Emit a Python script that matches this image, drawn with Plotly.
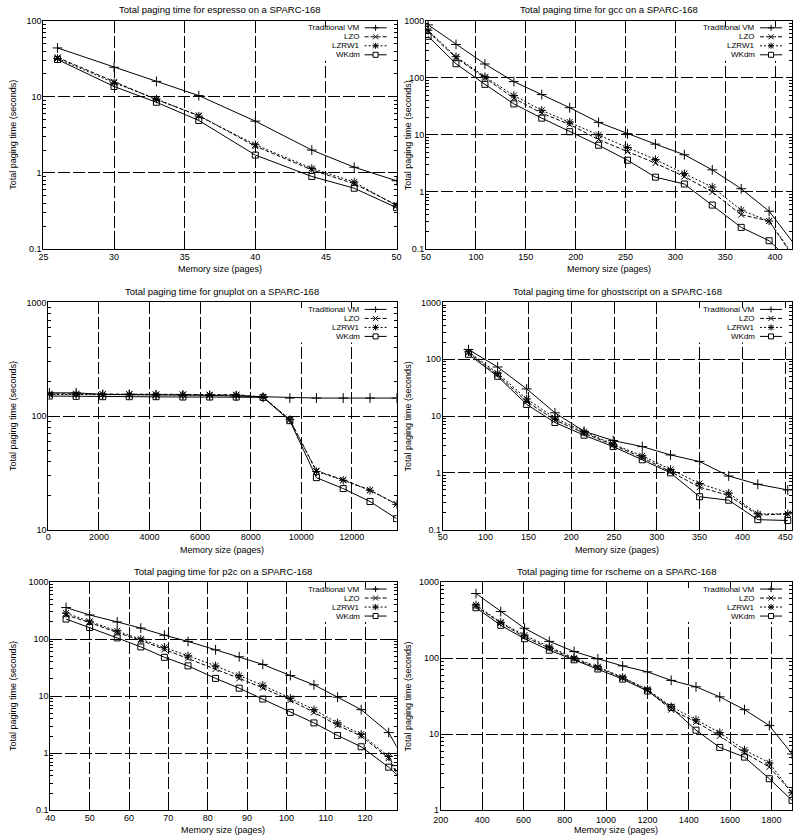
import math
import plotly.graph_objects as go

FONT = "Liberation Sans"
SERIES = ["Traditional VM", "LZO", "LZRW1", "WKdm"]

# ── espresso ──────────────────────────────────────────────────────────────────
ESPRESSO_X = [26, 30, 33, 36, 40, 44, 47, 50]
ESPRESSO_VM = [44, 24.5, 16, 10.4, 4.8, 2.0, 1.19, 0.79]
ESPRESSO_LZO = [33, 15.8, 9.2, 5.7, 2.25, 1.1, 0.72, 0.38]
ESPRESSO_LZRW1 = [32, 15.3, 9.4, 5.6, 2.35, 1.15, 0.76, 0.37]
ESPRESSO_WKDM = [31, 13.7, 8.5, 4.9, 1.72, 0.9, 0.63, 0.35]

# ── gcc ───────────────────────────────────────────────────────────────────────
GCC_X = [52, 80, 109, 138, 166, 194, 223, 252, 280, 309, 337, 366, 394, 423]
GCC_VM = [850, 385, 175, 86, 51, 30, 16.6, 10.5, 6.9, 4.5, 2.44, 1.14, 0.46, 0.1]
GCC_LZO = [650, 225, 100, 44, 24, 15.3, 8.3, 5.1, 3.2, 1.87, 1.0, 0.40, 0.31, 0.055]
GCC_LZRW1 = [680, 235, 105, 49, 27, 16.8, 10, 6.0, 3.7, 2.1, 1.22, 0.48, 0.31, 0.06]
GCC_WKDM = [535, 177, 77, 35, 19.7, 11.4, 6.6, 3.6, 1.82, 1.38, 0.59, 0.24, 0.14, 0.047]

# ── gnuplot ───────────────────────────────────────────────────────────────────
GNUPLOT_X = [40, 1100, 2150, 3200, 4260, 5320, 6380, 7430, 8490, 9550,
             10600, 11660, 12720, 13770]
GNUPLOT_VM = [160, 160, 155, 155, 154, 153, 152, 150, 146, 144, 144, 144, 144, 144]
GNUPLOT_LZO = [157, 157, 156, 156, 155, 155, 154, 154, 147, 93, 33, 27.5, 22.3, 16.8]
GNUPLOT_LZRW1 = [155, 155, 155, 155, 154, 154, 153, 153, 147, 93, 32.5, 27.2, 22.2, 16.7]
GNUPLOT_WKDM = [150, 149, 148, 148, 148, 147, 147, 147, 146, 91, 28.7, 23, 17.7, 12.5]

# ── ghostscript ───────────────────────────────────────────────────────────────
GHOST_X = [80, 114, 148, 181, 215, 249, 283, 316, 350, 384, 418, 453]
GHOST_VM = [148, 73, 30, 11.4, 5.4, 3.7, 2.9, 2.07, 1.58, 0.88, 0.63, 0.50]
GHOST_LZO = [130, 53, 18, 8.5, 5.0, 3.1, 1.85, 1.05, 0.56, 0.40, 0.18, 0.19]
GHOST_LZRW1 = [135, 57, 20, 9.2, 5.3, 3.2, 2.0, 1.15, 0.65, 0.44, 0.19, 0.19]
GHOST_WKDM = [122, 50, 16, 7.7, 4.6, 2.9, 1.7, 1.0, 0.38, 0.33, 0.15, 0.145]

# ── p2c ───────────────────────────────────────────────────────────────────────
P2C_X = [44, 50, 57, 63, 69, 75, 82, 88, 94, 101, 107, 113, 119, 126, 132]
P2C_VM = [357, 265, 200, 156, 117, 91, 65, 49, 36, 23, 15.8, 9.6, 5.8, 2.3, 0.42]
P2C_LZO = [265, 195, 130, 95, 66, 46, 30, 20.5, 14, 8.5, 5.2, 3.1, 2.0, 0.82, 0.13]
P2C_LZRW1 = [285, 205, 140, 100, 72, 51, 34, 23, 15.5, 9.2, 5.8, 3.4, 2.15, 0.88, 0.14]
P2C_WKDM = [225, 160, 105, 73, 48, 34, 20.5, 13.8, 8.9, 5.2, 3.4, 2.05, 1.3, 0.57, 0.23]

# ── rscheme ───────────────────────────────────────────────────────────────────
RSCHEME_X = [370, 490, 605, 725, 845, 960, 1080, 1200, 1315, 1435, 1550, 1670, 1790, 1900]
RSCHEME_VM = [707, 409, 247, 166, 122, 98, 79, 66, 51, 42, 31, 21, 13, 5.5]
RSCHEME_LZO = [480, 290, 190, 135, 97, 75, 55, 38, 21, 14.5, 9.5, 5.7, 3.7, 1.7]
RSCHEME_LZRW1 = [500, 295, 200, 140, 100, 77, 56, 39, 23, 15.5, 10.5, 6.2, 4.2, 1.7]
RSCHEME_WKDM = [460, 270, 180, 127, 95, 72, 53, 37, 22.5, 11.3, 6.7, 5.0, 2.6, 1.35]

# tick values
Y_TICKS = [0.1, 1, 10, 100, 1000]
Y_TICK_TEXT = ["0.1", "1", "10", "100", "1000"]

# (program, x, series, x ticks, x range, y range, pixel box (l, r, t, b), x label standoff)
PANELS = [
    ("espresso", ESPRESSO_X, [ESPRESSO_VM, ESPRESSO_LZO, ESPRESSO_LZRW1, ESPRESSO_WKDM],
     list(range(25, 51, 5)), [25, 50], [0.1, 100], (36, 395, 16, 247), -1),
    ("gcc", GCC_X, [GCC_VM, GCC_LZO, GCC_LZRW1, GCC_WKDM],
     list(range(50, 401, 50)), [50, 417], [0.1, 1000], (425, 797, 16, 247), -1),
    ("gnuplot", GNUPLOT_X, [GNUPLOT_VM, GNUPLOT_LZO, GNUPLOT_LZRW1, GNUPLOT_WKDM],
     list(range(0, 12001, 2000)), [0, 13770], [10, 1000], (41, 395, 301, 531), -1),
    ("ghostscript", GHOST_X, [GHOST_VM, GHOST_LZO, GHOST_LZRW1, GHOST_WKDM],
     list(range(50, 451, 50)), [50, 458], [0.1, 1000], (442, 797, 301, 531), -1),
    ("p2c", P2C_X, [P2C_VM, P2C_LZO, P2C_LZRW1, P2C_WKDM],
     list(range(40, 121, 10)), [40, 128], [0.1, 1000], (43, 395, 584, 815), -1),
    ("rscheme", RSCHEME_X, [RSCHEME_VM, RSCHEME_LZO, RSCHEME_LZRW1, RSCHEME_WKDM],
     list(range(200, 1801, 200)), [200, 1900], [1, 1000], (440, 797, 584, 815), 1),
]

STYLE = {
    "Traditional VM": dict(dash="solid", symbol="cross-thin-open", size=7),
    "LZO": dict(dash="4px,2px", symbol="x-thin-open", size=6),
    "LZRW1": dict(dash="2px,2px", symbol="asterisk-open", size=7),
    "WKdm": dict(dash="solid", symbol="square-open", size=6),
}

# key glyphs (pixel segments relative to the glyph centre)
GLYPH = {
    "Traditional VM": [(-3, 0, 3, 0), (0, -3, 0, 3)],
    "LZO": [(-2.5, -2.5, 2.5, 2.5), (-2.5, 2.5, 2.5, -2.5)],
    "LZRW1": [(-3, 0, 3, 0), (0, -3, 0, 3), (-2.5, -2.5, 2.5, 2.5), (-2.5, 2.5, 2.5, -2.5)],
    "WKdm": None,
}

W, H = 800, 840
black = "black"
fig = go.Figure()
shapes, annotations = [], []

for n, (prog, xs, ys_list, xt, xr, yr, box, x_standoff) in enumerate(PANELS, start=1):
    l, r, t, b = box
    sfx = "" if n == 1 else str(n)
    for name, ys in zip(SERIES, ys_list):
        st = STYLE[name]
        fig.add_trace(go.Scatter(
            x=xs, y=ys, name=name, mode="lines+markers",
            xaxis=f"x{sfx}", yaxis=f"y{sfx}", showlegend=False,
            line=dict(color=black, width=1, dash=st["dash"]),
            marker=dict(symbol=st["symbol"], size=st["size"], color=black,
                        line=dict(color=black, width=1)),
        ))

    yt = [v for v in Y_TICKS if yr[0] <= v <= yr[1]]
    ytt = [Y_TICK_TEXT[Y_TICKS.index(v)] for v in yt]
    axis_common = dict(
        showline=True, linecolor=black, linewidth=1, mirror="allticks",
        ticks="inside", ticklen=6, tickcolor=black, tickwidth=1,
        showgrid=True, gridcolor=black, gridwidth=1, griddash="12px,3px",
        zeroline=False, tickfont=dict(family=FONT, size=9, color=black),
        layer="above traces",
    )
    fig.update_layout(**{
        f"xaxis{sfx}": dict(
            domain=[l / W, r / W], anchor=f"y{sfx}", range=xr,
            tickmode="array", tickvals=xt, ticktext=[str(v) for v in xt],
            ticklabelstandoff=x_standoff, **axis_common),
        f"yaxis{sfx}": dict(
            domain=[1 - b / H, 1 - t / H], anchor=f"x{sfx}", type="log",
            range=[math.log10(yr[0]), math.log10(yr[1])],
            tickmode="array", tickvals=yt, ticktext=ytt,
            ticklabelstandoff=-1,
            minor=dict(ticks="inside", ticklen=3, tickcolor=black, dtick="D1",
                       showgrid=False),
            **axis_common),
    })

    xd = f"x{sfx} domain"
    yd = f"y{sfx} domain"
    txt = dict(family=FONT, size=9, color=black)
    annotations.append(dict(
        text=f"Total paging time for {prog} on a SPARC-168", xref=xd, yref=yd,
        x=0.5, y=1, yshift=11, xanchor="center", yanchor="middle",
        showarrow=False, font=dict(family=FONT, size=9.5, color=black)))
    annotations.append(dict(
        text="Memory size (pages)", xref=xd, yref=yd, x=0.5, y=0, yshift=-20,
        xanchor="center", yanchor="middle", showarrow=False, font=txt))
    annotations.append(dict(
        text="Total paging time (seconds)", xref="paper", yref=yd,
        x=(5 if l < 400 else 407) / W, y=0.5, textangle=-90,
        xanchor="center", yanchor="middle", showarrow=False, font=txt))

    # gnuplot-style key in the top-right corner, drawn as pixel-sized paths
    pix = dict(xref=f"x{sfx}", yref=f"y{sfx}", xsizemode="pixel",
               ysizemode="pixel", xanchor=xr[1], yanchor=yr[1])
    shapes.append(dict(type="path", path="M-108,-1 L-1,-1 L-1,-40 L-108,-40 Z",
                       fillcolor="white", line=dict(width=0), layer="between", **pix))
    for i, name in enumerate(SERIES):
        yy = -7 - 9 * i
        shapes.append(dict(type="path", path=f"M-32,{yy} L-10,{yy}",
                           line=dict(color=black, width=1, dash=STYLE[name]["dash"]),
                           **pix))
        cx = -21
        if GLYPH[name] is None:
            sq = (f"M{cx - 2.5},{yy - 2.5} L{cx + 2.5},{yy - 2.5} "
                  f"L{cx + 2.5},{yy + 2.5} L{cx - 2.5},{yy + 2.5} Z")
            shapes.append(dict(type="path", path=sq, fillcolor="white",
                               line=dict(color=black, width=1), **pix))
        else:
            path = " ".join(f"M{cx + a},{yy + c} L{cx + d},{yy + e}"
                            for a, c, d, e in GLYPH[name])
            shapes.append(dict(type="path", path=path,
                               line=dict(color=black, width=1), **pix))
        annotations.append(dict(
            text=name, xref=xd, yref=yd, x=1, y=1, xshift=-35, yshift=yy,
            xanchor="right", yanchor="middle", showarrow=False,
            font=dict(family=FONT, size=8, color=black)))

fig.update_layout(
    width=W, height=H, margin=dict(l=0, r=0, t=0, b=0),
    paper_bgcolor="white", plot_bgcolor="white",
    shapes=shapes, annotations=annotations, showlegend=False,
    font=dict(family=FONT, size=9, color=black),
)

# the page's default body margin would push the 800x840 figure off the window
fig.write_html("out.html", config={"displayModeBar": False},
               post_script="document.body.style.margin='0';")
